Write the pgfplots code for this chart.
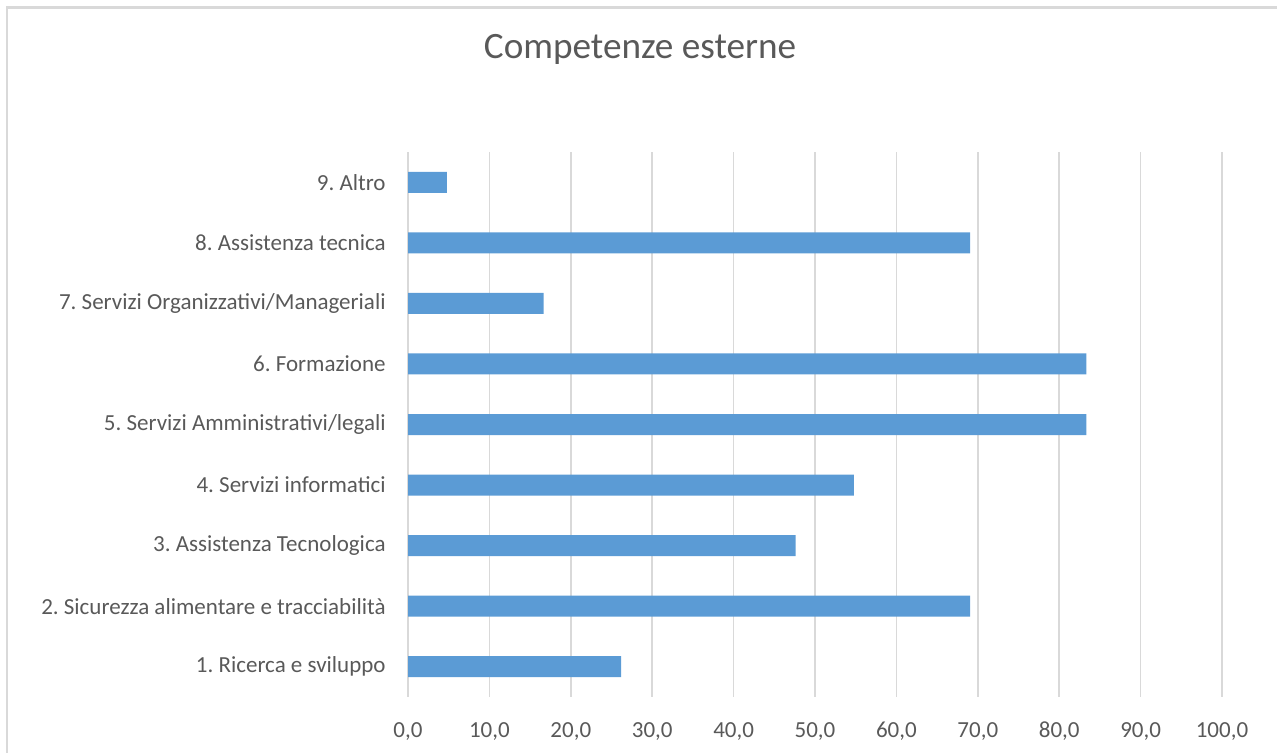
\documentclass[border=0pt]{standalone}
\usepackage{fontspec}
\setmainfont{Carlito}
\usepackage{pgfplots}
\pgfplotsset{compat=1.18}
\definecolor{barblue}{HTML}{5B9BD5}
\definecolor{gridgray}{HTML}{D9D9D9}
\definecolor{txtgray}{HTML}{595959}
\frenchspacing
\begin{document}
\frenchspacing
\begin{tikzpicture}
\useasboundingbox (0,0) rectangle (638.5pt,376.5pt);
\draw[gridgray, line width=1.2pt] (3.4pt,0) -- (3.4pt,372.8pt) -- (640pt,372.8pt);
\node[anchor=base, text=txtgray, font=\fontsize{18.6pt}{22pt}\selectfont] at (320pt,347pt) {Competenze esterne};
\begin{axis}[
  at={(204pt,28pt)}, anchor=south west,
  scale only axis, width=407pt, height=272.5pt,
  xbar, bar width=10.5pt,
  xmin=0, xmax=100, ymin=-0.5, ymax=8.5,
  xtick={0,10,...,100},
  ytick={0,...,8},
  yticklabels={1. Ricerca e sviluppo,2. Sicurezza alimentare e tracciabilità,3. Assistenza Tecnologica,4. Servizi informatici,5. Servizi Amministrativi/legali,6. Formazione,7. Servizi Organizzativi/Manageriali,8. Assistenza tecnica,9. Altro},
  major tick length=0pt,
  axis line style={draw=none},
  xmajorgrids, grid style={gridgray, line width=0.8pt},
  clip=false,
  tick label style={text=txtgray, font=\fontsize{11.5pt}{13pt}\selectfont\frenchspacing},
  xticklabel style={anchor=base, yshift=-20pt},
  yticklabel style={anchor=east, inner sep=0pt, xshift=-11pt},
  /pgf/number format/.cd, fixed, fixed zerofill, precision=1, use comma, assume math mode=true,
]
\addplot[fill=barblue, draw=none] coordinates {
(26.19,0) (69.05,1) (47.62,2) (54.76,3) (83.33,4) (83.33,5) (16.67,6) (69.05,7) (4.76,8)
};
\end{axis}
\end{tikzpicture}
\end{document}
